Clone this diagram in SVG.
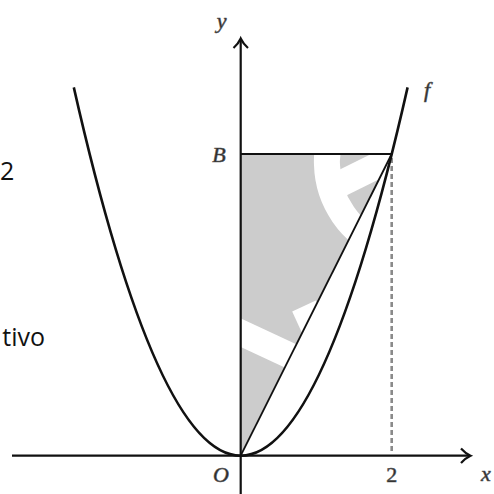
<svg xmlns="http://www.w3.org/2000/svg" width="494" height="494" viewBox="0 0 494 494">
<style>
.ax{stroke:#111;stroke-width:2.2;fill:none}
.cur{stroke:#111;stroke-width:2.6;fill:none}
.ln{stroke:#111;stroke-width:1.8;fill:none}
.dash{stroke:#8a8a8a;stroke-width:2.6;stroke-dasharray:5 3;fill:none}
.lab{font-family:"Liberation Serif",serif;font-style:italic;font-size:22px;fill:#2a2a2a;stroke:#555;stroke-width:0.6;text-anchor:middle}
.txt{font-family:"Open Sans","Noto Sans",sans-serif;font-size:25px;fill:#111}
.wm{stroke:#fff;stroke-width:26;fill:none;stroke-linejoin:round}
</style>
<rect width="494" height="494" fill="#fff"/>
<g id="region">
<polygon points="240.7,455.7 240.7,154 391.7,154" fill="#cccccc"/>
</g>
<g id="watermark">
<path class="wm" d="M -8,472 C 10,455 35,450 50,466 L 80,500"/>
<path class="wm" d="M 83,374 L 195,505"/>
<path class="wm" d="M 117,410 C 113,370 125,338 158,333"/>
<path class="wm" d="M 162,296 L 338,378"/>
<path class="wm" d="M 337,378 L 304,306"/>
<path class="wm" d="M 440,128 C 430,105 405,100 385,102 C 350,105 325,130 327,165 C 328,200 350,235 385,246 C 420,255 455,245 475,215 L 488,185"/>
<path class="wm" d="M 443,133 L 332,188"/>
</g>
<g id="connectors">
<line class="dash" x1="391.7" y1="158" x2="391.7" y2="454"/>
<line class="ln" x1="240.7" y1="154" x2="391.7" y2="154"/>
<line class="ln" x1="240.7" y1="455.7" x2="391.7" y2="154"/>
<path id="curve-f" class="cur" d="M 73.8,87.4 Q 240.7,824 407.6,87.4"/>
<line class="ax" x1="12" y1="455.7" x2="469" y2="455.7"/>
<path class="ax" d="M 461,448.5 Q 465.5,453.5 470.5,455.7 Q 465.5,458 461,463"/>
<line class="ax" x1="240.7" y1="494" x2="240.7" y2="40"/>
<path class="ax" d="M 233.5,48 Q 238.5,43.5 240.7,38.5 Q 243,43.5 248,48"/>
</g>
<g id="labels">
<text class="lab" x="221.7" y="28">y</text>
<text class="lab" x="219" y="162">B</text>
<text class="lab" x="221" y="482">O</text>
<text class="lab" x="391.7" y="482" style="font-style:normal">2</text>
<text class="lab" x="486" y="481">x</text>
<text class="lab" x="427" y="97">f</text>
<text class="txt" x="0" y="180">2</text>
<text class="txt" x="45" y="346" text-anchor="end">tivo</text>
</g>
</svg>
